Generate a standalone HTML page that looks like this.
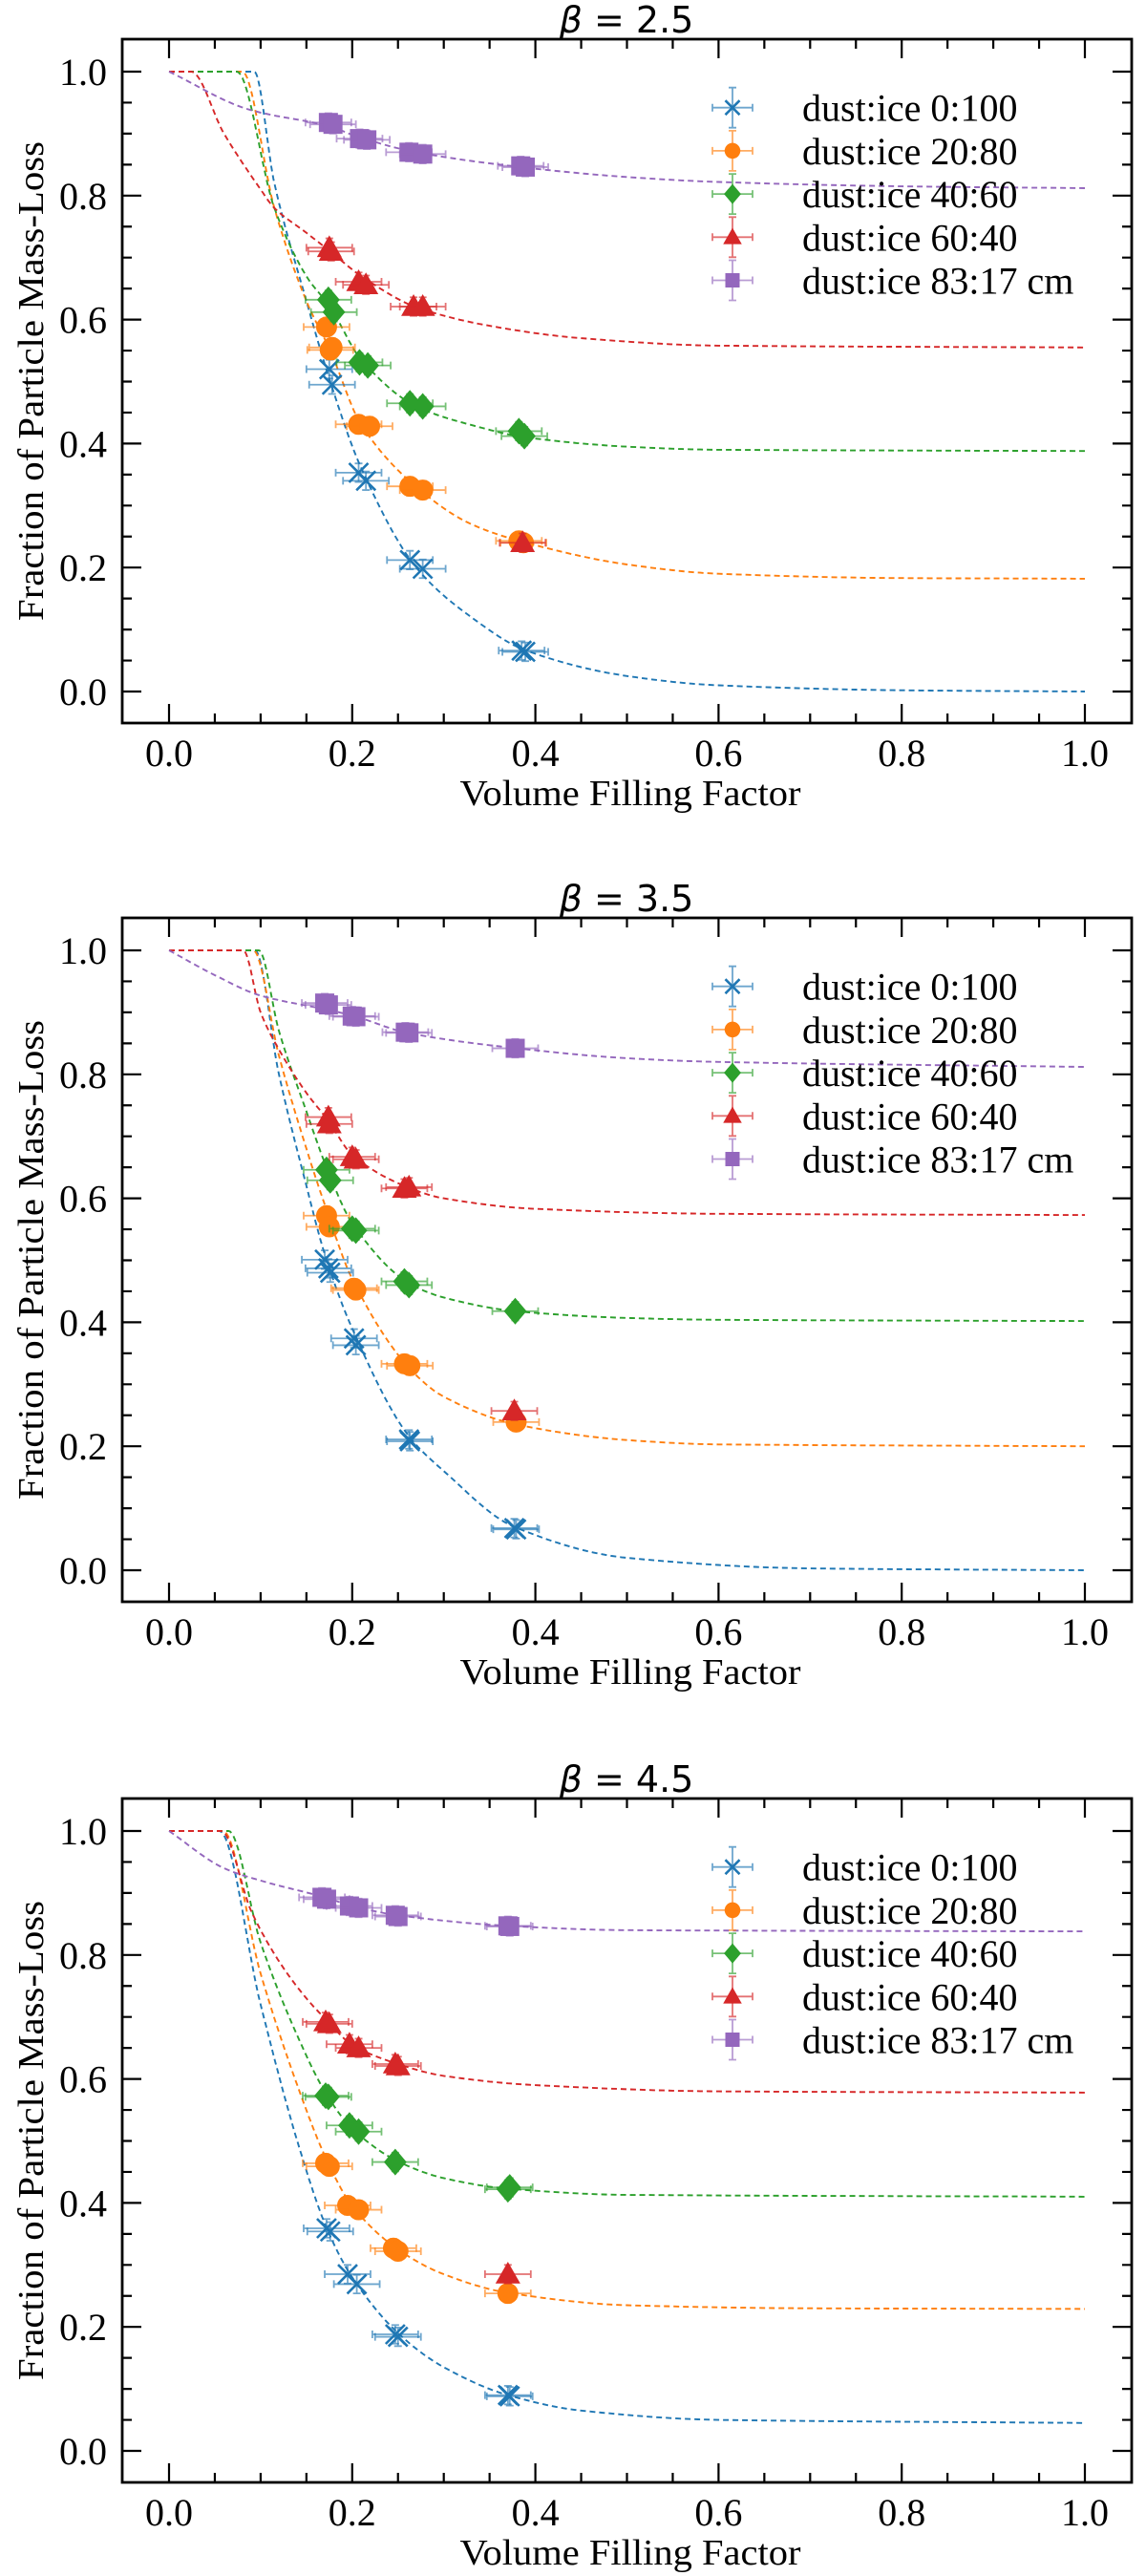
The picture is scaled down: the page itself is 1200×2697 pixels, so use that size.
<!DOCTYPE html>
<html><head><meta charset="utf-8"><style>
html,body{margin:0;padding:0;background:#fff}
svg{display:block}
</style></head><body>
<svg id="fig" width="1200" height="2697" viewBox="0 0 1200 2697" xmlns="http://www.w3.org/2000/svg"></svg>
<script>
// ---- data ----
const panelTitles = ["2.5", "3.5", "4.5"];
const seriesNames = ["dust:ice 0:100", "dust:ice 20:80", "dust:ice 40:60", "dust:ice 60:40", "dust:ice 83:17 cm"];
const seriesColors = ["#1f77b4", "#ff7f0e", "#2ca02c", "#d62728", "#9467bd"];
const xTickLabels = ["0.0", "0.2", "0.4", "0.6", "0.8", "1.0"];
const yTickLabels = ["0.0", "0.2", "0.4", "0.6", "0.8", "1.0"];

// Panel 1 (beta 2.5) measured points
const p1BlueX = [0.175, 0.178, 0.207, 0.215, 0.263, 0.277, 0.385, 0.389];
const p1BlueY = [0.52, 0.495, 0.353, 0.34, 0.212, 0.198, 0.066, 0.064];
const p1OrangeX = [0.172, 0.176, 0.178, 0.207, 0.219, 0.263, 0.277, 0.382, 0.387];
const p1OrangeY = [0.588, 0.551, 0.555, 0.431, 0.428, 0.331, 0.325, 0.243, 0.24];
const p1GreenX = [0.174, 0.18, 0.208, 0.217, 0.263, 0.277, 0.382, 0.388];
const p1GreenY = [0.632, 0.612, 0.531, 0.526, 0.465, 0.46, 0.42, 0.412];
const p1RedX = [0.175, 0.177, 0.207, 0.215, 0.267, 0.277, 0.386];
const p1RedY = [0.716, 0.71, 0.661, 0.656, 0.621, 0.621, 0.24];
const p1PurpleX = [0.174, 0.179, 0.208, 0.216, 0.262, 0.277, 0.384, 0.389];
const p1PurpleY = [0.918, 0.915, 0.892, 0.89, 0.87, 0.867, 0.848, 0.846];
// Panel 1 fitted curves (sampled)
const p1BlueCX = [0, 0.093, 0.115, 0.15, 0.176, 0.21, 0.27, 0.33, 0.39, 0.5, 0.6, 0.8, 1.0];
const p1BlueCY = [1, 1, 0.82, 0.63, 0.5, 0.36, 0.2, 0.12, 0.066, 0.025, 0.01, 0.002, 0];
const p1OrangeCX = [0, 0.08, 0.115, 0.15, 0.176, 0.21, 0.27, 0.33, 0.39, 0.5, 0.6, 0.8, 1.0];
const p1OrangeCY = [1, 1, 0.78, 0.63, 0.55, 0.43, 0.33, 0.27, 0.24, 0.205, 0.19, 0.183, 0.182];
const p1GreenCX = [0, 0.074, 0.115, 0.15, 0.176, 0.21, 0.27, 0.33, 0.39, 0.5, 0.6, 1.0];
const p1GreenCY = [1, 1, 0.78, 0.67, 0.62, 0.535, 0.46, 0.43, 0.41, 0.395, 0.39, 0.388];
const p1RedCX = [0, 0.024, 0.06, 0.1, 0.115, 0.15, 0.176, 0.21, 0.27, 0.35, 0.45, 0.6, 1.0];
const p1RedCY = [1, 1, 0.9, 0.81, 0.78, 0.74, 0.71, 0.67, 0.62, 0.59, 0.57, 0.558, 0.555];
const p1PurpleCX = [0, 0.087, 0.174, 0.21, 0.27, 0.39, 0.5, 0.6, 0.8, 1.0];
const p1PurpleCY = [1, 0.939, 0.912, 0.893, 0.87, 0.845, 0.83, 0.822, 0.815, 0.812];

// Panel 2 (beta 3.5)
const p2BlueX = [0.170, 0.174, 0.176, 0.202, 0.204, 0.262, 0.263, 0.377, 0.379];
const p2BlueY = [0.501, 0.487, 0.48, 0.374, 0.363, 0.211, 0.208, 0.068, 0.066];
const p2OrangeX = [0.172, 0.175, 0.202, 0.204, 0.257, 0.263, 0.379];
const p2OrangeY = [0.572, 0.554, 0.455, 0.452, 0.333, 0.330, 0.239];
const p2GreenX = [0.172, 0.176, 0.2, 0.204, 0.257, 0.262, 0.378];
const p2GreenY = [0.646, 0.629, 0.551, 0.548, 0.466, 0.46, 0.418];
const p2RedX = [0.174, 0.175, 0.2, 0.204, 0.257, 0.262, 0.377];
const p2RedY = [0.731, 0.72, 0.667, 0.663, 0.616, 0.618, 0.257];
const p2PurpleX = [0.170, 0.174, 0.2, 0.204, 0.258, 0.262, 0.378];
const p2PurpleY = [0.915, 0.912, 0.894, 0.893, 0.868, 0.867, 0.842];
const p2BlueCX = [0, 0.094, 0.12, 0.15, 0.17, 0.2, 0.26, 0.3, 0.377, 0.5, 0.7, 1.0];
const p2BlueCY = [1, 1, 0.8, 0.62, 0.51, 0.39, 0.22, 0.16, 0.07, 0.02, 0.003, 0];
const p2OrangeCX = [0, 0.092, 0.12, 0.15, 0.17, 0.2, 0.26, 0.3, 0.38, 0.5, 0.6, 1.0];
const p2OrangeCY = [1, 1, 0.83, 0.68, 0.59, 0.47, 0.33, 0.28, 0.235, 0.21, 0.203, 0.2];
const p2GreenCX = [0, 0.098, 0.12, 0.15, 0.172, 0.2, 0.26, 0.3, 0.378, 0.5, 0.6, 1.0];
const p2GreenCY = [1, 1, 0.87, 0.74, 0.65, 0.56, 0.465, 0.44, 0.418, 0.407, 0.404, 0.402];
const p2RedCX = [0, 0.081, 0.1, 0.12, 0.15, 0.174, 0.2, 0.257, 0.3, 0.4, 0.6, 1.0];
const p2RedCY = [1, 1, 0.9, 0.84, 0.77, 0.725, 0.67, 0.62, 0.6, 0.583, 0.575, 0.573];
const p2PurpleCX = [0, 0.05, 0.1, 0.17, 0.2, 0.26, 0.38, 0.5, 0.6, 1.0];
const p2PurpleCY = [1, 0.96, 0.927, 0.905, 0.895, 0.867, 0.842, 0.826, 0.82, 0.812];

// Panel 3 (beta 4.5)
const p3BlueX = [0.172, 0.176, 0.195, 0.205, 0.247, 0.25, 0.37, 0.372];
const p3BlueY = [0.359, 0.354, 0.285, 0.269, 0.188, 0.184, 0.09, 0.088];
const p3OrangeX = [0.171, 0.175, 0.195, 0.207, 0.245, 0.25, 0.37];
const p3OrangeY = [0.464, 0.459, 0.396, 0.389, 0.327, 0.322, 0.254];
const p3GreenX = [0.171, 0.174, 0.197, 0.207, 0.247, 0.37, 0.372];
const p3GreenY = [0.573, 0.571, 0.525, 0.515, 0.466, 0.422, 0.425];
const p3RedX = [0.171, 0.175, 0.197, 0.207, 0.247, 0.25, 0.37];
const p3RedY = [0.692, 0.689, 0.656, 0.65, 0.624, 0.621, 0.285];
const p3PurpleX = [0.167, 0.172, 0.197, 0.207, 0.247, 0.25, 0.37, 0.372];
const p3PurpleY = [0.893, 0.89, 0.879, 0.876, 0.864, 0.862, 0.847, 0.846];
const p3BlueCX = [0, 0.055, 0.1, 0.14, 0.172, 0.2, 0.25, 0.3, 0.37, 0.45, 0.6, 1.0];
const p3BlueCY = [1, 1, 0.72, 0.5, 0.36, 0.28, 0.19, 0.135, 0.09, 0.065, 0.05, 0.045];
const p3OrangeCX = [0, 0.059, 0.1, 0.14, 0.172, 0.2, 0.25, 0.3, 0.37, 0.5, 0.7, 1.0];
const p3OrangeCY = [1, 1, 0.77, 0.59, 0.47, 0.395, 0.325, 0.285, 0.255, 0.235, 0.23, 0.229];
const p3GreenCX = [0, 0.065, 0.1, 0.14, 0.172, 0.2, 0.25, 0.3, 0.37, 0.5, 1.0];
const p3GreenCY = [1, 1, 0.82, 0.67, 0.575, 0.52, 0.467, 0.44, 0.423, 0.413, 0.41];
const p3RedCX = [0, 0.057, 0.09, 0.12, 0.15, 0.172, 0.2, 0.25, 0.3, 0.4, 0.6, 1.0];
const p3RedCY = [1, 1, 0.87, 0.79, 0.73, 0.695, 0.655, 0.624, 0.605, 0.59, 0.58, 0.578];
const p3PurpleCX = [0, 0.06, 0.1, 0.17, 0.2, 0.25, 0.37, 0.5, 1.0];
const p3PurpleCY = [1, 0.94, 0.92, 0.893, 0.879, 0.864, 0.847, 0.84, 0.838];

const xErr = 0.025;
const yErr = 0.015;

const panelPoints = [
  [[p1BlueX,p1BlueY],[p1OrangeX,p1OrangeY],[p1GreenX,p1GreenY],[p1RedX,p1RedY],[p1PurpleX,p1PurpleY]],
  [[p2BlueX,p2BlueY],[p2OrangeX,p2OrangeY],[p2GreenX,p2GreenY],[p2RedX,p2RedY],[p2PurpleX,p2PurpleY]],
  [[p3BlueX,p3BlueY],[p3OrangeX,p3OrangeY],[p3GreenX,p3GreenY],[p3RedX,p3RedY],[p3PurpleX,p3PurpleY]]
];
const panelCurves = [
  [[p1BlueCX,p1BlueCY],[p1OrangeCX,p1OrangeCY],[p1GreenCX,p1GreenCY],[p1RedCX,p1RedCY],[p1PurpleCX,p1PurpleCY]],
  [[p2BlueCX,p2BlueCY],[p2OrangeCX,p2OrangeCY],[p2GreenCX,p2GreenCY],[p2RedCX,p2RedCY],[p2PurpleCX,p2PurpleCY]],
  [[p3BlueCX,p3BlueCY],[p3OrangeCX,p3OrangeCY],[p3GreenCX,p3GreenCY],[p3RedCX,p3RedCY],[p3PurpleCX,p3PurpleCY]]
];

// ---- layout ----
const NS = "http://www.w3.org/2000/svg";
const svg = document.getElementById('fig');
const offsets = [0, 920, 1842];
const AX = {l:128, r:1185, t:41, b:757};
const X0 = 177, X1 = 1136, Y0 = 724, Y1 = 75;
function mk(tag, attrs, parent){ const e=document.createElementNS(NS,tag); for(const k in attrs) e.setAttribute(k,attrs[k]); (parent||svg).appendChild(e); return e; }

function monotone(xs, ys, n){
  const m = xs.length, d=[], s=[];
  for(let i=0;i<m-1;i++){ s.push((ys[i+1]-ys[i])/(xs[i+1]-xs[i])); }
  d.push(s[0]);
  for(let i=1;i<m-1;i++){ if(s[i-1]*s[i]<=0) d.push(0); else d.push(2/(1/s[i-1]+1/s[i])); }
  d.push(s[m-2]);
  const out=[];
  for(let i=0;i<m-1;i++){
    const h=xs[i+1]-xs[i];
    for(let k=0;k<n;k++){
      const t=k/n, t2=t*t, t3=t2*t;
      const y=(2*t3-3*t2+1)*ys[i]+(t3-2*t2+t)*h*d[i]+(-2*t3+3*t2)*ys[i+1]+(t3-t2)*h*d[i+1];
      out.push([xs[i]+t*h, y]);
    }
  }
  out.push([xs[m-1], ys[m-1]]);
  return out;
}

function marker(g, kind, cx, cy, color, sc){
  let e;
  if(kind===0){
    const r=10*sc;
    e=mk('path',{d:`M${cx-r},${cy-r}L${cx+r},${cy+r}M${cx-r},${cy+r}L${cx+r},${cy-r}`,stroke:color,'stroke-width':2.6,fill:'none'},g);
  } else if(kind===1){
    e=mk('circle',{cx:cx,cy:cy,r:11*sc,fill:color},g);
  } else if(kind===2){
    const r=14*sc;
    e=mk('polygon',{points:`${cx},${cy-r} ${cx+r*0.85},${cy} ${cx},${cy+r} ${cx-r*0.85},${cy}`,fill:color},g);
  } else if(kind===3){
    const r=13*sc;
    e=mk('polygon',{points:`${cx},${cy-r} ${cx+r},${cy+r*0.75} ${cx-r},${cy+r*0.75}`,fill:color},g);
  } else {
    const r=10*sc;
    e=mk('rect',{x:cx-r,y:cy-r,width:2*r,height:2*r,fill:color},g);
  }
  return e;
}
function errbar(g, cx, cy, ex, ey, color){
  const p=`M${cx-ex},${cy}L${cx+ex},${cy}M${cx},${cy-ey}L${cx},${cy+ey}M${cx-ex},${cy-4}L${cx-ex},${cy+4}M${cx+ex},${cy-4}L${cx+ex},${cy+4}M${cx-4},${cy-ey}L${cx+4},${cy-ey}M${cx-4},${cy+ey}L${cx+4},${cy+ey}`;
  mk('path',{d:p,stroke:color,'stroke-width':1.8,fill:'none',opacity:0.65},g);
}

panelTitles.forEach((title, p) => {
  const off = offsets[p];
  const sx = v => X0 + v*(X1-X0);
  const sy = v => off + Y0 - v*(Y0-Y1);
  const g = mk('g',{});
  
  

  const t = mk('text',{x:656,y:off+34,'text-anchor':'middle','font-family':'DejaVu Sans, sans-serif','font-size':38,fill:'#000'},g);
  
  
  const ts = mk('tspan',{'font-style':'italic'},t); ts.textContent='β';
  const ts2 = mk('tspan',{},t); ts2.textContent=' = '+title;

  // curves
  panelCurves[p].forEach((c, s) => {
    const pts = monotone(c[0], c[1], 20);
    const d = pts.map((q,i)=>(i?'L':'M')+sx(q[0]).toFixed(1)+','+sy(q[1]).toFixed(1)).join('');
    const path = mk('path',{d:d,stroke:seriesColors[s],'stroke-width':1.9,fill:'none','stroke-dasharray':'6 4'},g);
    
    
  });
  // points
  panelPoints[p].forEach((ser, s) => {
    const sg = mk('g',{},g);
    
    
    ser[0].forEach((xv, i) => {
      const cx = sx(xv), cy = sy(ser[1][i]);
      errbar(sg, cx, cy, xErr*(X1-X0), yErr*(Y0-Y1), seriesColors[s]);
      const m = marker(sg, s, cx, cy, seriesColors[s], 1);
      
      
    });
  });

  // axes frame
  const fr = mk('rect',{x:AX.l,y:off+AX.t,width:AX.r-AX.l,height:AX.b-AX.t,fill:'none',stroke:'#000','stroke-width':2.8},g);
  
  
  // ticks
  let td='';
  for(let k=0;k<=20;k++){
    const v=k*0.05, major=(k%4===0), L=major?20:10;
    const x=sx(v), y=sy(v);
    td+=`M${x},${off+AX.b}L${x},${off+AX.b-L}M${x},${off+AX.t}L${x},${off+AX.t+L}`;
    td+=`M${AX.l},${y}L${AX.l+L},${y}M${AX.r},${y}L${AX.r-L},${y}`;
  }
  const tk = mk('path',{d:td,stroke:'#000','stroke-width':2.2,fill:'none'},g);
  
  
  xTickLabels.forEach((lab,i)=>{
    const e=mk('text',{x:sx(i*0.2),y:off+802,'text-anchor':'middle','font-family':'Liberation Serif, serif','font-size':40},g);
    e.textContent=lab;
    
    
  });
  yTickLabels.forEach((lab,i)=>{
    const e=mk('text',{x:112,y:sy(i*0.2)+14,'text-anchor':'end','font-family':'Liberation Serif, serif','font-size':40},g);
    e.textContent=lab;
    
    
  });
  const xl=mk('text',{x:660,y:off+843,'text-anchor':'middle','font-family':'Liberation Serif, serif','font-size':38,textLength:357,lengthAdjust:'spacingAndGlyphs'},g);
  xl.textContent='Volume Filling Factor';
  
  
  const yl=mk('text',{x:0,y:0,'text-anchor':'middle','font-family':'Liberation Serif, serif','font-size':38,transform:`translate(45,${off+399}) rotate(-90)`,textLength:502,lengthAdjust:'spacingAndGlyphs'},g);
  yl.textContent='Fraction of Particle Mass-Loss';
  
  

  // legend
  const lg = mk('g',{},g);
  
  
  seriesNames.forEach((nm, s) => {
    const cy = off + 112.7 + s*45.2;
    const eg = mk('g',{},lg);
    
    
    errbar(eg, 767, cy, 21, 21, seriesColors[s]);
    marker(eg, s, 767, cy, seriesColors[s], 0.75);
    const tx=mk('text',{x:840,y:cy+14,'font-family':'Liberation Serif, serif','font-size':40},eg);
    tx.textContent=nm;
  });
});
</script>
</body></html>
